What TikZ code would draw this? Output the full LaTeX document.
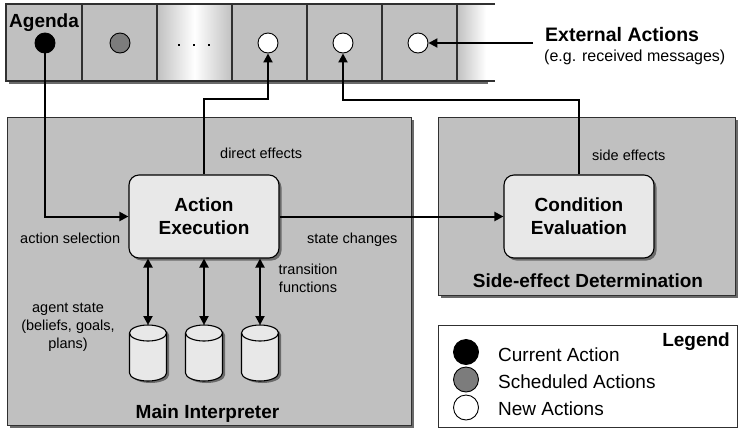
\documentclass[tikz,border=0pt]{standalone}
\usepackage{fontspec}
\setmainfont{Liberation Sans}
\usetikzlibrary{arrows.meta,shadows}

\definecolor{panel}{HTML}{C0C0C0}
\definecolor{boxfill}{HTML}{E8E8E8}
\definecolor{edge}{HTML}{303030}
\definecolor{shadowgray}{HTML}{6A6A6A}
\definecolor{midgray}{HTML}{7C7C7C}

\begin{document}
\begin{tikzpicture}[x=1pt,y=-1pt,
  panelbox/.style={draw=edge, line width=1pt, fill=panel,
    drop shadow={shadow xshift=3pt, shadow yshift=-3pt, fill=shadowgray, opacity=1}},
  procbox/.style={draw=black, line width=1.1pt, fill=boxfill, rounded corners=10pt,
    minimum width=150pt, minimum height=83pt, inner sep=0pt, align=center,
    font=\fontsize{19}{23}\selectfont\bfseries,
    drop shadow={shadow xshift=2.5pt, shadow yshift=-2.5pt, fill=shadowgray, opacity=1}},
  token/.style={circle, draw=black, line width=0.9pt, minimum size=20pt, inner sep=0pt},
  legtoken/.style={circle, draw=black, line width=0.9pt, minimum size=25pt, inner sep=0pt},
  small/.style={font=\fontsize{14.5}{18}\selectfont, inner sep=0pt},
  big/.style={font=\fontsize{19}{23}\selectfont\bfseries, inner sep=0pt},
  legtext/.style={font=\fontsize{19}{23}\selectfont, inner sep=0pt, anchor=base west},
  arr/.style={draw=black, line width=2pt, -{Triangle[length=9pt,width=9pt]}},
  dblarr/.style={draw=black, line width=2pt, {Triangle[length=9pt,width=9pt]}-{Triangle[length=9pt,width=9pt]}},
]
\useasboundingbox (0,0) rectangle (738,429);

% ---------- agenda strip ----------
\fill[shadowgray] (9,81) rectangle (488,84);
\fill[panel] (6,4) rectangle (457,81);
\shade[left color=panel, right color=panel, middle color=white] (157,4) rectangle (232,81);
\shade[left color=panel, right color=white] (457,4) rectangle (486,81);
\draw[edge, line width=1.3pt] (495,4) -- (6,4) -- (6,81) -- (495,81);
\foreach \cx in {82,157,232,307,382,457}
  \draw[edge, line width=1.3pt] (\cx,4) -- (\cx,81);
\node[big, anchor=base west] (agenda) at (9,27) {Agenda};
\foreach \dx in {179,194,209}
  \fill[black] (\dx-1.3,43.7) rectangle (\dx+1.3,46.3);

\node[token, fill=black]    (cur) at (45,43) {};
\node[token, fill=midgray]  (sch) at (120,43) {};
\node[token, fill=white]    (n1)  at (268,43) {};
\node[token, fill=white]    (n2)  at (343,43) {};
\node[token, fill=white]    (n3)  at (418,43) {};

% external input
\node[big, font=\fontsize{19.5}{23}\selectfont\bfseries, anchor=base west] (ext) at (545,41) {External Actions};
\node[font=\fontsize{16}{19}\selectfont, inner sep=0pt, anchor=base west] (extnote) at (544,61) {(e.g. received messages)};
\coordinate (extin) at (533,43);

% ---------- panels ----------
\node[panelbox, minimum width=404pt, minimum height=308pt, inner sep=0pt] (main) at (209,271) {};
\node[panelbox, minimum width=297pt, minimum height=178pt, inner sep=0pt] (side) at (586.5,206) {};
\node[draw=edge, line width=1pt, fill=white, minimum width=299pt, minimum height=102pt, inner sep=0pt] (legend) at (587.5,376) {};

% ---------- process boxes ----------
\node[procbox] (ae) at (204,216.5) {Action\\Execution};
\node[procbox] (ce) at (579,216.5) {Condition\\Evaluation};

% ---------- state stores ----------
\foreach \cx/\nm in {148/db1,204/db2,260/db3}{
  \fill[shadowgray] (\cx-16,335) -- (\cx-16,375) arc[start angle=180,end angle=360,x radius=18.5pt,y radius=8pt]
     -- (\cx+21,335) arc[start angle=0,end angle=180,x radius=18.5pt,y radius=8pt] -- cycle;
  \draw[black, line width=1.1pt, fill=boxfill] (\cx-18.5,333) -- (\cx-18.5,373)
     arc[start angle=180,end angle=360,x radius=18.5pt,y radius=8pt]
     -- (\cx+18.5,333) arc[start angle=0,end angle=180,x radius=18.5pt,y radius=8pt] -- cycle;
  \draw[black, line width=1.1pt] (\cx-18.5,333) arc[start angle=180,end angle=360,x radius=18.5pt,y radius=8pt];
  \coordinate (\nm) at (\cx,325);
}

% ---------- labels ----------
\node[small, anchor=base west] (ldirect) at (220,158) {direct effects};
\node[small, anchor=base west] (lsel) at (20,243) {action selection};
\node[small, anchor=base west] (lstate) at (307,243) {state changes};
\node[small, anchor=base west] (lside) at (592,160) {side effects};
\node[small, align=center, anchor=base] (ltrans) at (308,292) {transition\\functions};
\node[small, align=center, anchor=base] (lagent) at (68,348) {agent state\\(beliefs, goals,\\plans)};
\node[big, anchor=base] (lmain) at (207.5,418) {Main Interpreter};
\node[big, anchor=base] (lsidebox) at (588,287) {Side-effect Determination};

% ---------- legend ----------
\node[big, anchor=base east] (leghead) at (730,346) {Legend};
\node[legtoken, fill=black]   (lg1) at (466,352) {};
\node[legtoken, fill=midgray] (lg2) at (466,379.5) {};
\node[legtoken, fill=white]   (lg3) at (466,407.5) {};
\node[legtext] (lt1) at (498,361) {Current Action};
\node[legtext] (lt2) at (498,388) {Scheduled Actions};
\node[legtext] (lt3) at (498,415) {New Actions};

% ---------- connectors ----------
\draw[arr] (cur.south) |- (ae.west);
\draw[arr] (ae.north) -- ++(0,-75) -| (n1.south);
\draw[arr] (ce.north) -- ++(0,-74.5) -| (n2.south);
\draw[arr] (ae.east) -- (ce.west);
\draw[arr] (extin) -- (n3.east);
\draw[dblarr] (ae.south -| db1) -- (db1);
\draw[dblarr] (ae.south -| db2) -- (db2);
\draw[dblarr] (ae.south -| db3) -- (db3);
\end{tikzpicture}
\end{document}
